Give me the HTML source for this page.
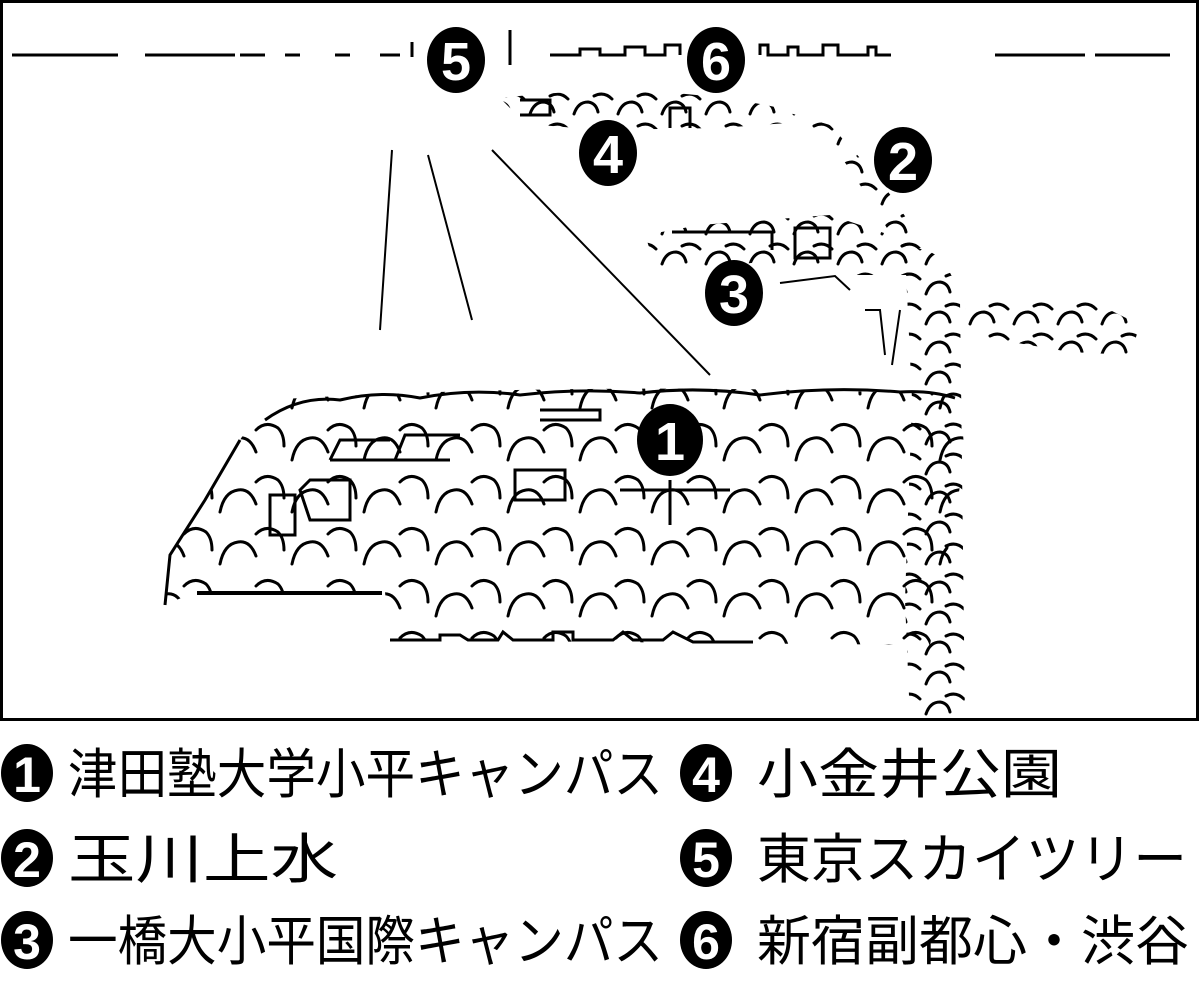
<!DOCTYPE html>
<html><head><meta charset="utf-8"><style>
body{margin:0;background:#fff;width:1200px;height:987px;overflow:hidden}
svg{display:block}
.t{font-family:"Liberation Sans","Noto Sans CJK JP",sans-serif;font-size:54px;fill:#000}
.n{font-family:"Liberation Sans",sans-serif;font-weight:bold;fill:#fff;text-anchor:middle}
</style></head><body>
<svg width="1200" height="987" viewBox="0 0 1200 987">
<defs>
<pattern id="tr" width="72" height="52" patternUnits="userSpaceOnUse">
<path d="M4 44 Q8 24 22 22 Q34 20 40 36 M40 14 Q50 4 62 12 Q68 18 68 30" fill="none" stroke="#000" stroke-width="3" stroke-linecap="round"/>
</pattern>
<pattern id="tr2" width="44" height="30" patternUnits="userSpaceOnUse">
<path d="M2 24 Q6 12 16 12 Q24 13 26 22 M22 6 Q32 1 40 9" fill="none" stroke="#000" stroke-width="3" stroke-linecap="round"/>
</pattern>
</defs>
<rect x="1.5" y="1.5" width="1196" height="718" fill="none" stroke="#000" stroke-width="3"/>
<g stroke="#000" stroke-width="3" fill="none">
<path d="M12 55H118M145 55H235M240 55H265M285 55H300M335 55H350M380 55H400M995 55H1085M1095 55H1170"/>
<path d="M550 55h30v-6h20v6h25v-8h20v8h20v-10h15v10M760 55v-10h8v10h20v-8h10v8h25v-10h15v10h30v-8h8v8h15"/>
<path d="M510 30v35M412 42v15"/>
</g>
<g stroke="#000" stroke-width="2" fill="none">
<path d="M392 150L380 330M428 155L472 320M492 150L710 375"/>
<path d="M197 593H382" stroke-width="4"/>
<path d="M780 283L835 276L850 290M865 310L880 310L885 355M900 310L892 365"/>
</g>
<path d="M265 400Q600 380 960 395L965 460L930 645L390 640L385 592L195 592L165 605L170 555L205 500L240 440Z" fill="url(#tr)"/>
<path d="M905 250Q945 240 960 300L965 720L910 720L905 600L912 400Z" fill="url(#tr2)"/>
<path d="M500 98Q650 80 780 108L800 122L720 128L600 130L540 125L510 108Z" fill="url(#tr2)"/>
<path d="M780 110L830 125L880 180L925 245L905 258L870 200L830 140Z" fill="url(#tr2)"/>
<path d="M645 235L700 225L830 215L905 240L915 275L850 275L760 262L690 270L655 265Z" fill="url(#tr2)"/>
<path d="M965 305Q1030 295 1090 300L1140 325L1130 355L1070 352L1000 340L970 335Z" fill="url(#tr2)"/>
<g stroke="#000" stroke-width="3" fill="none">
<path d="M265 420Q300 395 340 400Q380 390 420 398Q470 388 520 395Q580 388 640 393Q700 386 760 395Q830 386 900 392Q930 390 955 398"/>
<path d="M240 440L205 500L170 555L165 605"/>
<path d="M390 640h50v-5h20l8 5h30l5-8 10 8h40v-8h20v8h40l10-8 10 8h30l10-8 20 10h60"/>
<path d="M330 460L340 440H390M330 460H450M395 460L405 435H460M515 470h50v30h-50zM540 410h60v10h-60M620 490h110M670 480v45M270 495h25v40h-25zM300 490L310 480h40v40h-40z"/>
<path d="M670 128v-20h20v20M520 100h30v15h-30M672 232h100v18M795 228h35v30h-35z"/>
</g>
<g>
<ellipse cx="456" cy="60" rx="29" ry="33"/><text class="n" x="456" y="80" font-size="54">5</text>
<ellipse cx="716" cy="60" rx="29" ry="33"/><text class="n" x="716" y="80" font-size="54">6</text>
<ellipse cx="608" cy="153" rx="29" ry="33"/><text class="n" x="608" y="173" font-size="54">4</text>
<ellipse cx="903" cy="160" rx="29" ry="33"/><text class="n" x="903" y="180" font-size="54">2</text>
<ellipse cx="734" cy="293" rx="29" ry="33"/><text class="n" x="734" y="313" font-size="54">3</text>
<ellipse cx="670" cy="440" rx="33" ry="36"/><text class="n" x="670" y="460" font-size="54">1</text>
</g>
<g>
<ellipse cx="27" cy="773" rx="26" ry="29"/><text class="n" x="27" y="792" font-size="50">1</text>
<ellipse cx="27" cy="858" rx="26" ry="29"/><text class="n" x="27" y="877" font-size="50">2</text>
<ellipse cx="27" cy="940" rx="26" ry="29"/><text class="n" x="27" y="959" font-size="50">3</text>
<ellipse cx="706" cy="773" rx="26" ry="29"/><text class="n" x="706" y="792" font-size="50">4</text>
<ellipse cx="706" cy="858" rx="26" ry="29"/><text class="n" x="706" y="877" font-size="50">5</text>
<ellipse cx="706" cy="940" rx="26" ry="29"/><text class="n" x="706" y="959" font-size="50">6</text>
<text class="t" x="68" y="793" textLength="595" lengthAdjust="spacingAndGlyphs">津田塾大学小平キャンパス</text>
<text class="t" x="68" y="878" textLength="270" lengthAdjust="spacingAndGlyphs">玉川上水</text>
<text class="t" x="68" y="960" textLength="595" lengthAdjust="spacingAndGlyphs">一橋大小平国際キャンパス</text>
<text class="t" x="757" y="793" textLength="305" lengthAdjust="spacingAndGlyphs">小金井公園</text>
<text class="t" x="757" y="878" textLength="430" lengthAdjust="spacingAndGlyphs">東京スカイツリー</text>
<text class="t" x="757" y="960" textLength="432" lengthAdjust="spacingAndGlyphs">新宿副都心・渋谷</text>
</g>
</svg>
</body></html>
